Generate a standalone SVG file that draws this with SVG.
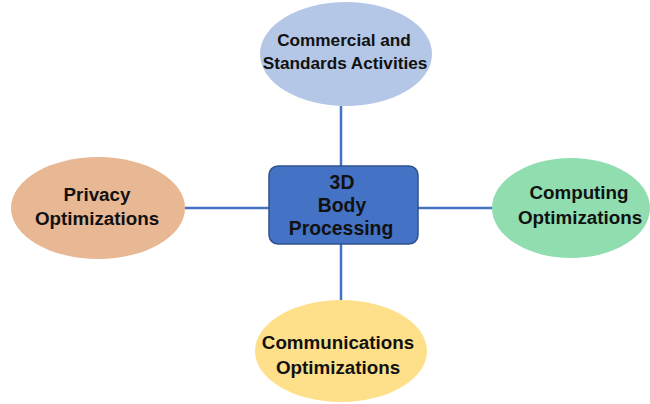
<svg xmlns="http://www.w3.org/2000/svg" width="650" height="404" viewBox="0 0 650 404">
<style>
.lbl{font-family:"Liberation Sans",Arial,sans-serif;font-weight:bold;font-size:18.8px;fill:#111;text-anchor:middle}
.top{font-size:17.2px}
.box{font-size:19.4px}
.conn{stroke:#4472C4;stroke-width:2.5;fill:none}
</style>
<rect width="650" height="404" fill="#ffffff"/>
<g id="connectors">
<line class="conn" x1="341" y1="106" x2="341" y2="167"/>
<line class="conn" x1="341" y1="243" x2="341" y2="301"/>
<line class="conn" x1="184" y1="208" x2="270" y2="208"/>
<line class="conn" x1="417" y1="208" x2="494" y2="208"/>
</g>
<g id="commercial">
<ellipse cx="346" cy="54" rx="86" ry="52" fill="#B4C7E7"/>
<text class="lbl top" x="344" y="46">Commercial and</text>
<text class="lbl top" x="345" y="69">Standards Activities</text>
</g>
<g id="privacy">
<ellipse cx="98" cy="208" rx="87" ry="51" fill="#E8B794"/>
<text class="lbl" x="97" y="201">Privacy</text>
<text class="lbl" x="97" y="225">Optimizations</text>
</g>
<g id="computing">
<ellipse cx="571" cy="208" rx="79" ry="50" fill="#90DDB0"/>
<text class="lbl" x="579" y="199">Computing</text>
<text class="lbl" x="580" y="224">Optimizations</text>
</g>
<g id="communications">
<ellipse cx="341" cy="351" rx="86" ry="51" fill="#FFE08A"/>
<text class="lbl" x="338" y="349">Communications</text>
<text class="lbl" x="338" y="374">Optimizations</text>
</g>
<g id="body">
<rect x="269" y="166" width="149" height="78" rx="9" fill="#4472C4" stroke="#2F528F" stroke-width="1.5"/>
<text class="lbl box" x="342" y="189">3D</text>
<text class="lbl box" x="342" y="212">Body</text>
<text class="lbl box" x="341" y="235">Processing</text>
</g>
</svg>
